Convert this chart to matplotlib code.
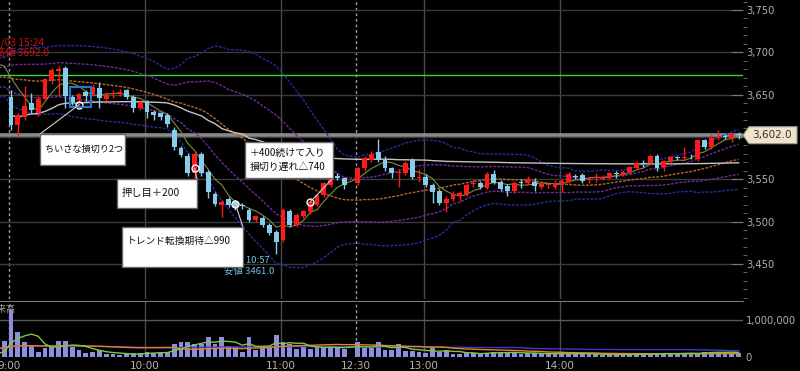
import numpy as np
import pandas as pd
import matplotlib
matplotlib.use("Agg")
import matplotlib.pyplot as plt
from matplotlib.patches import Rectangle, Polygon
from matplotlib.ticker import FuncFormatter, MultipleLocator

# 3-minute bars of 3/04, morning 9:00-11:27 then afternoon 12:30-15:18
opens = [3647, 3614, 3624, 3640, 3628, 3645, 3667, 3678, 3681, 3647,
         3645, 3653, 3651, 3658, 3645, 3651, 3651, 3655, 3647, 3634,
         3642, 3630, 3628, 3626, 3608, 3587, 3578, 3557, 3580, 3559,
         3533, 3520, 3527, 3523, 3520, 3514, 3502, 3504, 3496, 3488,
         3478, 3512, 3496, 3506, 3511, 3520, 3531, 3543, 3554, 3551,
         3545, 3563, 3573, 3582, 3573, 3563, 3557, 3557, 3573, 3551,
         3553, 3543, 3536, 3522, 3527, 3530, 3533, 3544, 3546, 3540,
         3556, 3547, 3542, 3536, 3547, 3546, 3547, 3541, 3543, 3541,
         3544, 3547, 3554, 3555, 3549, 3552, 3550, 3552, 3557, 3555,
         3558, 3563, 3569, 3569, 3578, 3564, 3571, 3576, 3575, 3578,
         3574, 3596, 3588, 3599, 3601, 3599, 3603]
highs = [3655, 3628, 3660, 3652, 3648, 3670, 3681, 3684, 3684, 3650,
         3652, 3656, 3662, 3665, 3653, 3656, 3657, 3657, 3649, 3643,
         3644, 3632, 3630, 3628, 3612, 3589, 3581, 3583, 3582, 3561,
         3535, 3525, 3529, 3526, 3522, 3516, 3508, 3506, 3498, 3490,
         3516, 3515, 3510, 3514, 3525, 3533, 3547, 3553, 3557, 3553,
         3565, 3577, 3583, 3598, 3578, 3565, 3562, 3572, 3575, 3562,
         3556, 3545, 3538, 3530, 3536, 3536, 3545, 3549, 3548, 3558,
         3561, 3549, 3544, 3548, 3550, 3554, 3551, 3546, 3546, 3549,
         3550, 3558, 3556, 3557, 3553, 3557, 3555, 3559, 3560, 3561,
         3566, 3571, 3573, 3580, 3580, 3573, 3578, 3578, 3588, 3580,
         3598, 3598, 3603, 3608, 3603, 3605, 3606]
lows = [3608, 3600, 3620, 3628, 3625, 3642, 3662, 3650, 3634, 3638,
        3638, 3641, 3648, 3634, 3643, 3646, 3648, 3645, 3630, 3632,
        3622, 3620, 3620, 3612, 3584, 3576, 3554, 3550, 3554, 3528,
        3518, 3505, 3517, 3514, 3515, 3500, 3500, 3494, 3484, 3461,
        3476, 3494, 3494, 3504, 3509, 3518, 3529, 3541, 3549, 3538,
        3543, 3560, 3570, 3570, 3560, 3551, 3541, 3555, 3550, 3547,
        3541, 3522, 3520, 3511, 3524, 3524, 3530, 3541, 3539, 3538,
        3544, 3536, 3530, 3534, 3540, 3544, 3536, 3539, 3540, 3539,
        3535, 3545, 3550, 3546, 3546, 3547, 3549, 3550, 3551, 3554,
        3556, 3562, 3565, 3567, 3560, 3560, 3569, 3573, 3573, 3574,
        3572, 3586, 3586, 3596, 3598, 3594, 3598]
closes = [3614, 3626, 3637, 3632, 3645, 3668, 3679, 3680, 3648, 3641,
          3651, 3648, 3659, 3646, 3650, 3652, 3653, 3647, 3634, 3641,
          3629, 3626, 3623, 3615, 3588, 3579, 3557, 3580, 3557, 3535,
          3521, 3523, 3519, 3516, 3518, 3502, 3506, 3496, 3486, 3476,
          3514, 3496, 3508, 3512, 3523, 3531, 3545, 3551, 3552, 3543,
          3563, 3575, 3580, 3573, 3563, 3557, 3559, 3569, 3553, 3553,
          3543, 3535, 3522, 3527, 3533, 3534, 3543, 3545, 3541, 3556,
          3546, 3539, 3536, 3546, 3546, 3550, 3542, 3544, 3543, 3545,
          3548, 3556, 3553, 3548, 3552, 3553, 3553, 3557, 3556, 3559,
          3564, 3569, 3568, 3578, 3563, 3571, 3576, 3575, 3576, 3577,
          3596, 3588, 3599, 3600, 3600, 3603, 3602]
volumes_k = [1270, 680, 410, 300, 140, 230, 260, 430, 430, 260,
             190, 120, 140, 190, 80, 70, 50, 70, 120, 100,
             140, 100, 120, 140, 350, 400, 400, 350, 350, 550,
             350, 550, 300, 260, 140, 550, 190, 300, 300, 590,
             400, 350, 210, 320, 210, 280, 260, 260, 260, 210,
             410, 230, 230, 400, 190, 190, 350, 160, 160, 130,
             100, 260, 140, 190, 70, 80, 100, 120, 80, 120,
             140, 120, 140, 100, 80, 100, 120, 80, 70, 80,
             100, 100, 100, 80, 70, 70, 50, 70, 50, 70,
             70, 100, 70, 70, 100, 120, 100, 70, 100, 120,
             100, 140, 140, 130, 120, 120, 100]

# end of the previous day (3/03), only to warm up the averages
prev_closes = [3650, 3652, 3655, 3658, 3656, 3660, 3663, 3661, 3665, 3668,
               3666, 3670, 3672, 3675, 3673, 3677, 3680, 3678, 3682, 3685,
               3683, 3687, 3690, 3686, 3673]
prev_volumes_k = [300, 280, 350, 250, 300, 320, 280, 260, 300, 240,
                  280, 300, 260, 250, 280, 300, 240, 220, 260, 200,
                  80, 60, 70, 60, 430]
prev_day_close = 3673

time_labels = ['9:00', '10:00', '11:00', '12:30', '13:00', '14:00']
session_breaks = ['9:00', '12:30']

# trade marks
mark_slots = [10, 27, 33, 44]
mark_prices = [3638, 3563, 3521, 3523]

day_high_text = ['3/03 15:24', '高値 3692.0']
day_low_text = ['3/04 10:57', '安値 3461.0']


def slot(t):
    h, m = map(int, t.split(':'))
    mins = h * 60 + m
    if mins < 12 * 60:
        return (mins - 540) / 3
    return 51 + (mins - 750) / 3


pos = np.r_[np.arange(50), np.arange(51, 108)]
prev_pos = np.arange(-len(prev_closes), 0)
all_pos = np.r_[prev_pos, pos]

o = np.array(opens, float)
h = np.array(highs, float)
l = np.array(lows, float)
c = np.array(closes, float)
v = np.array(volumes_k, float) * 1000

c_all = pd.Series(prev_closes + closes, dtype=float)
ma5 = c_all.rolling(5, min_periods=1).mean()
mid = c_all.rolling(25, min_periods=1).mean()
sd = c_all.rolling(25, min_periods=1).std(ddof=0)
tp = (h + l + c) / 3
vwap = np.cumsum(tp * v) / np.cumsum(v)

v_all = pd.Series(prev_volumes_k + volumes_k, dtype=float) * 1000
vma5 = v_all.rolling(5, min_periods=1).mean()
vma25 = v_all.rolling(25, min_periods=1).mean()
vma75 = v_all.rolling(75, min_periods=1).mean()

cjk = ['Noto Sans CJK JP', 'DejaVu Sans']
plt.rcParams['font.family'] = ['DejaVu Sans']

W, H = 800, 371
fig = plt.figure(figsize=(8, 3.71), dpi=100, facecolor='black')
ax = fig.add_axes([0, 1 - 299 / H, 743 / W, 299 / H], facecolor='black')
axv = fig.add_axes([0, 1 - 357 / H, 743 / W, 56 / H], facecolor='black')

xlim = ((0 - 11) / 6.8, (743 - 11) / 6.8)
for a in (ax, axv):
    a.set_xlim(*xlim)
    for s in a.spines.values():
        s.set_visible(False)
    for t in [slot(x) for x in time_labels if x not in session_breaks]:
        a.axvline(t - 0.3, color='#4a4a4a', lw=1, zorder=0)
    for t in session_breaks:
        a.axvline(slot(t) - 0.3, color='#a0a0a0', lw=1, ls=(0, (2, 2)), zorder=0)

# price panel
ax.set_ylim(3408.4, 3761.8)
ax.yaxis.tick_right()
ax.set_yticks(np.arange(3450, 3751, 50))
ax.yaxis.set_minor_locator(MultipleLocator(10))
# the 3,600 label sits under the last price tag
ax.yaxis.set_major_formatter(FuncFormatter(lambda y, p: '' if abs(y - 3600) < 1 else f'{y:,.0f}'))
ax.tick_params(axis='y', which='major', direction='in', length=9, color='#777777',
               labelcolor='#b0b0b0', labelsize=7.2, pad=2)
ax.tick_params(axis='y', which='minor', direction='out', length=3, color='#777777')
ax.tick_params(axis='x', bottom=False, labelbottom=False)
for y in np.arange(3450, 3751, 50):
    ax.axhline(y, color='#3a3a3a', lw=1, zorder=0)

ax.axhline(prev_day_close, color='#33d633', lw=1, zorder=1)
ax.axhline(closes[-1], color='#8a8a8a', lw=2.6, zorder=1)

dot = (0, (2, 1))
ax.plot(all_pos, mid + 2 * sd, color='#2a2a9e', lw=1, ls=dot, zorder=2)
ax.plot(all_pos, mid - 2 * sd, color='#2a2a9e', lw=1, ls=dot, zorder=2)
ax.plot(all_pos, mid + sd, color='#6e2c9c', lw=1, ls=dot, zorder=2)
ax.plot(all_pos, mid - sd, color='#6e2c9c', lw=1, ls=dot, zorder=2)
ax.plot(all_pos, mid, color='#b8672a', lw=1, ls=dot, zorder=2)
ax.plot(pos, vwap, color='#c4c4c4', lw=1, zorder=2)
ax.plot(all_pos, ma5, color='#7d8c3c', lw=0.8, zorder=2)

up = c >= o
col = np.where(up, '#ff1a1a', '#87cdea')
ax.vlines(pos, l, h, colors=col, lw=1, zorder=3)
body = np.maximum(np.abs(c - o), 1.0)
ax.bar(pos, body, bottom=np.minimum(o, c), width=0.72, color=col, zorder=4)

ax.plot(mark_slots, mark_prices, 'o', mfc='none', mec='white', ms=5, mew=1, zorder=5)

# blue selection box around the small stops
ax.add_patch(Rectangle((8.68, 3635.3), 3.1, 23.7, fill=False, ec='#1f78d1', lw=1.5, zorder=5))

notes = [
    (['ちいさな損切り2つ'], (4.26, 3566.8, 16.76, 3603.4), (5.0, [3585.7]), (4.26, 3603.4), 6.6),
    (['押し目＋200'], (15.6, 3516.0, 27.35, 3550.2), (16.3, [3533.7]), (27.35, 3550.2), 7.4),
    (['トレンド転換期待△990'], (16.3, 3446.2, 34.1, 3493.5), (17.1, [3476.9]), (34.1, 3493.5), 7.0),
    (['＋400続けて入り', '損切り遅れ△740'], (34.4, 3551.4, 47.35, 3594.0), (35.15, [3581.0, 3564.4]),
     (47.35, 3551.4), 7.1),
]
for k, (lines, (x0, y0, x1, y1), (tx, tys), corner, fs) in enumerate(notes):
    ax.plot([mark_slots[k], corner[0]], [mark_prices[k], corner[1]], color='#cfcfcf', lw=0.8, zorder=6)
    ax.add_patch(Rectangle((x0, y0), x1 - x0, y1 - y0, fc='white', ec='#666666', lw=1, zorder=7))
    for line, ty in zip(lines, tys):
        ax.text(tx, ty, line, fontsize=fs, family=cjk, color='#111111', va='center', ha='left', zorder=8)

for line, y in zip(day_high_text, [3711, 3699]):
    ax.text(-2.3, y, line, fontsize=7.4, family=cjk, color='#c81414', va='center', ha='left',
            clip_on=True, zorder=6)
for line, y in zip(day_low_text, [3454.5, 3441.5]):
    ax.text(31.3, y, line, fontsize=6.8, family=cjk, color='#78c0e8', va='center', ha='left', zorder=6)

# volume panel
axv.set_ylim(0, 1.513e6)
axv.bar(np.r_[prev_pos[-1:], pos], np.r_[v_all.values[len(prev_volumes_k) - 1:len(prev_volumes_k)], v],
        width=0.72, color='#8f8de0', zorder=2)
axv.plot(all_pos, vma75, color='#3a3ad0', lw=1, zorder=3)
axv.plot(all_pos, vma25, color='#e8822a', lw=1, zorder=3)
axv.plot(all_pos, vma5, color='#7ac943', lw=1, zorder=3)
axv.axhline(1e6, color='#5a5a5a', lw=1, zorder=0)
axv.spines['top'].set_visible(True)
axv.spines['top'].set_color('#7a7a7a')
axv.yaxis.tick_right()
axv.set_yticks([0, 1e6])
axv.yaxis.set_major_formatter(FuncFormatter(lambda y, p: f'{y:,.0f}'))
axv.tick_params(axis='y', length=0, labelcolor='#b0b0b0', labelsize=7.2, pad=2)
axv.set_xticks([slot(t) - 0.3 for t in time_labels])
axv.set_xticklabels(time_labels)
axv.tick_params(axis='x', length=0, labelcolor='#b5b5b5', labelsize=7.5, pad=3)
axv.text(-3.4, 1.27e6, '出来高', fontsize=6.5, family=cjk, color='#a0a0a0', va='center',
         ha='left', clip_on=True)

# last price tag on the right
fig.canvas.draw()
yf = ax.transData.transform((0, closes[-1]))[1] / fig.bbox.height
hh = 8.5 / H
tag = Polygon([(743 / W, yf), (749 / W, yf + hh), (797 / W, yf + hh), (797 / W, yf - hh), (749 / W, yf - hh)],
              closed=True, transform=fig.transFigure, fc='#efe4c8', ec='#9a9a9a', lw=0.8)
fig.patches.append(tag)
fig.text(752 / W, yf, f'{closes[-1]:,.1f}', fontsize=7.5, color='#333333', va='center', ha='left')

fig.savefig('out.png', dpi=100, facecolor='black')
